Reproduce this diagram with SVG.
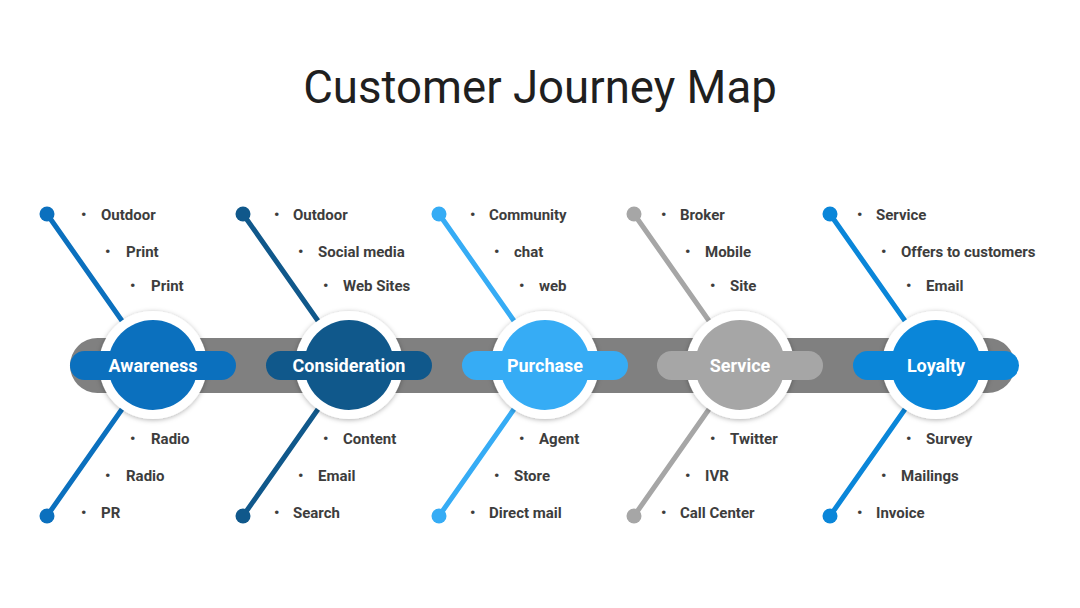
<svg xmlns="http://www.w3.org/2000/svg" width="1080" height="608" viewBox="0 0 1080 608">
<defs>
<filter id="sh" x="-30%" y="-30%" width="160%" height="160%">
<feDropShadow dx="0" dy="1" stdDeviation="2.5" flood-color="#000" flood-opacity="0.3"/>
</filter>
</defs>
<style>
.title{font-family:Roboto,"Liberation Sans",sans-serif;font-size:45.6px;fill:#1f1f1f;text-anchor:middle}
.it{font-family:Roboto,"Liberation Sans",sans-serif;font-size:15px;font-weight:bold;fill:#3d3d3d}
.lbl{font-family:Roboto,"Liberation Sans",sans-serif;font-size:18px;font-weight:bold;fill:#fff;text-anchor:middle}
.ln{stroke-width:5;fill:none;stroke-linecap:round}
.ring{fill:#fff;filter:url(#sh)}
</style>
<rect width="1080" height="608" fill="#fff"/>
<text class="title" x="540" y="103">Customer Journey Map</text>
<rect x="70" y="338" width="945" height="55" rx="27.5" fill="#808080"/>
<g id="connectors">
<line class="ln" x1="47" y1="214" x2="153" y2="365" stroke="#0B70BE"/>
<line class="ln" x1="47" y1="516" x2="153" y2="365" stroke="#0B70BE"/>
<line class="ln" x1="243" y1="214" x2="349" y2="365" stroke="#10588B"/>
<line class="ln" x1="243" y1="516" x2="349" y2="365" stroke="#10588B"/>
<line class="ln" x1="439" y1="214" x2="545" y2="365" stroke="#36ACF5"/>
<line class="ln" x1="439" y1="516" x2="545" y2="365" stroke="#36ACF5"/>
<line class="ln" x1="634" y1="214" x2="740" y2="365" stroke="#A6A6A6"/>
<line class="ln" x1="634" y1="516" x2="740" y2="365" stroke="#A6A6A6"/>
<line class="ln" x1="830" y1="214" x2="936" y2="365" stroke="#0A86D9"/>
<line class="ln" x1="830" y1="516" x2="936" y2="365" stroke="#0A86D9"/>
<circle cx="47" cy="214" r="7.5" fill="#0B70BE"/>
<circle cx="47" cy="516" r="7.5" fill="#0B70BE"/>
<circle cx="243" cy="214" r="7.5" fill="#10588B"/>
<circle cx="243" cy="516" r="7.5" fill="#10588B"/>
<circle cx="439" cy="214" r="7.5" fill="#36ACF5"/>
<circle cx="439" cy="516" r="7.5" fill="#36ACF5"/>
<circle cx="634" cy="214" r="7.5" fill="#A6A6A6"/>
<circle cx="634" cy="516" r="7.5" fill="#A6A6A6"/>
<circle cx="830" cy="214" r="7.5" fill="#0A86D9"/>
<circle cx="830" cy="516" r="7.5" fill="#0A86D9"/>
</g>
<g id="awareness">
<circle class="ring" cx="153" cy="365" r="54"/>
<circle cx="153" cy="365" r="45" fill="#0B70BE"/>
<rect x="70" y="351" width="166" height="29" rx="14.5" fill="#0B70BE"/>
<text class="lbl" x="153" y="371.5">Awareness</text>
<g class="it">
<text x="81" y="220">•</text><text x="101" y="220">Outdoor</text>
<text x="105" y="257">•</text><text x="126" y="257">Print</text>
<text x="130" y="291">•</text><text x="151" y="291">Print</text>
<text x="130" y="444">•</text><text x="151" y="444">Radio</text>
<text x="105" y="481">•</text><text x="126" y="481">Radio</text>
<text x="81" y="518">•</text><text x="101" y="518">PR</text>
</g>
</g>
<g id="consideration">
<circle class="ring" cx="349" cy="365" r="54"/>
<circle cx="349" cy="365" r="45" fill="#10588B"/>
<rect x="266" y="351" width="166" height="29" rx="14.5" fill="#10588B"/>
<text class="lbl" x="349" y="371.5">Consideration</text>
<g class="it">
<text x="274" y="220">•</text><text x="293" y="220">Outdoor</text>
<text x="298" y="257">•</text><text x="318" y="257">Social media</text>
<text x="323" y="291">•</text><text x="343" y="291">Web Sites</text>
<text x="323" y="444">•</text><text x="343" y="444">Content</text>
<text x="298" y="481">•</text><text x="318" y="481">Email</text>
<text x="274" y="518">•</text><text x="293" y="518">Search</text>
</g>
</g>
<g id="purchase">
<circle class="ring" cx="545" cy="365" r="54"/>
<circle cx="545" cy="365" r="45" fill="#36ACF5"/>
<rect x="462" y="351" width="166" height="29" rx="14.5" fill="#36ACF5"/>
<text class="lbl" x="545" y="371.5">Purchase</text>
<g class="it">
<text x="470" y="220">•</text><text x="489" y="220">Community</text>
<text x="494" y="257">•</text><text x="514" y="257">chat</text>
<text x="519" y="291">•</text><text x="539" y="291">web</text>
<text x="519" y="444">•</text><text x="539" y="444">Agent</text>
<text x="494" y="481">•</text><text x="514" y="481">Store</text>
<text x="470" y="518">•</text><text x="489" y="518">Direct mail</text>
</g>
</g>
<g id="service">
<circle class="ring" cx="740" cy="365" r="54"/>
<circle cx="740" cy="365" r="45" fill="#A6A6A6"/>
<rect x="657" y="351" width="166" height="29" rx="14.5" fill="#A6A6A6"/>
<text class="lbl" x="740" y="371.5">Service</text>
<g class="it">
<text x="661" y="220">•</text><text x="680" y="220">Broker</text>
<text x="685" y="257">•</text><text x="705" y="257">Mobile</text>
<text x="710" y="291">•</text><text x="730" y="291">Site</text>
<text x="710" y="444">•</text><text x="730" y="444">Twitter</text>
<text x="685" y="481">•</text><text x="705" y="481">IVR</text>
<text x="661" y="518">•</text><text x="680" y="518">Call Center</text>
</g>
</g>
<g id="loyalty">
<circle class="ring" cx="936" cy="365" r="54"/>
<circle cx="936" cy="365" r="45" fill="#0A86D9"/>
<rect x="853" y="351" width="166" height="29" rx="14.5" fill="#0A86D9"/>
<text class="lbl" x="936" y="371.5">Loyalty</text>
<g class="it">
<text x="857" y="220">•</text><text x="876" y="220">Service</text>
<text x="881" y="257">•</text><text x="901" y="257">Offers to customers</text>
<text x="906" y="291">•</text><text x="926" y="291">Email</text>
<text x="906" y="444">•</text><text x="926" y="444">Survey</text>
<text x="881" y="481">•</text><text x="901" y="481">Mailings</text>
<text x="857" y="518">•</text><text x="876" y="518">Invoice</text>
</g>
</g>
</svg>
